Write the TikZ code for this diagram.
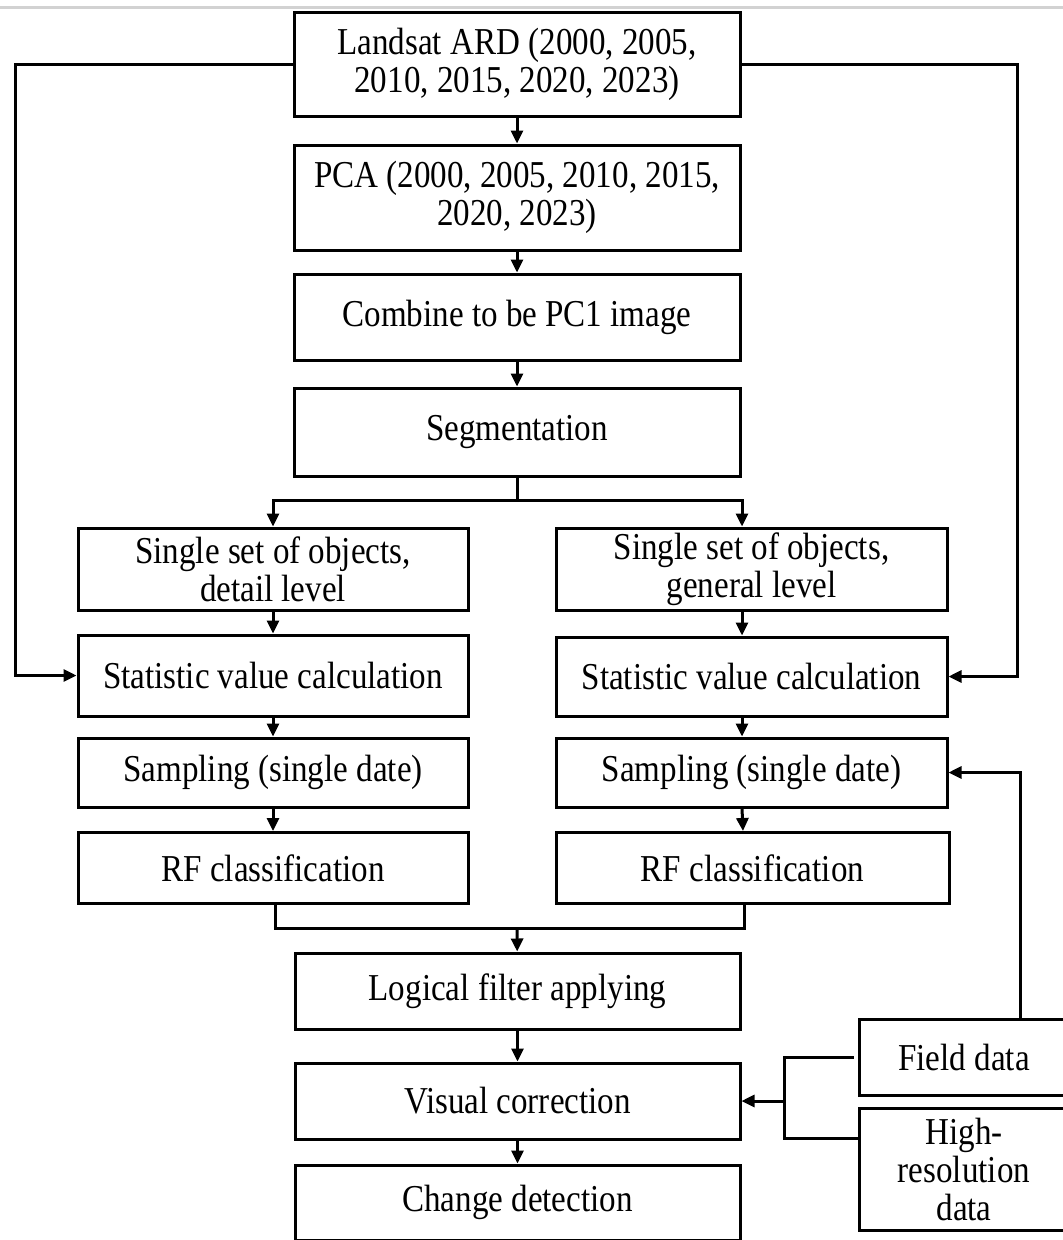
\documentclass[tikz,border=0pt]{standalone}
\usepackage{fontspec}
\setmainfont{Liberation Serif}[FakeStretch=0.87]
\usepackage{tikz}
\usetikzlibrary{arrows.meta, positioning}

\begin{document}
\begin{tikzpicture}[x=1pt, y=-1pt,
        box/.style={draw, line width=3pt, inner sep=0pt, align=center,
            font=\fontsize{38}{38}\selectfont},
        link/.style={line width=3pt},
        >={Triangle[length=13pt, width=12pt]}]
        \useasboundingbox (0,0) rectangle (1063,1240);
        \clip (0,0) rectangle (1063,1240);
        \draw[gray!35, line width=3pt] (0,7) -- (1063,7);

        \node[box, minimum width=446pt, minimum height=104pt] (land) at (517, 64) {Landsat ARD (2000, 2005,\\2010, 2015, 2020, 2023)};
        \node[box, minimum width=446pt, minimum height=105pt] (pca) at (517, 197.5) {PCA (2000, 2005, 2010, 2015,\\2020, 2023)};
        \node[box, minimum width=446pt, minimum height=86pt] (comb) at (517, 317) {Combine to be PC1 image};
        \node[box, minimum width=446pt, minimum height=88pt] (seg) at (517, 432) {Segmentation};

        \node[box, minimum width=390pt, minimum height=82pt] (detail) at (273, 569) {Single set of objects,\\detail level};
        \node[box, minimum width=391pt, minimum height=82pt] (general) at (751.5, 569) {Single set of objects,\\general level};
        \node[box, minimum width=390pt, minimum height=81pt] (statL) at (273, 675.5) {Statistic value calculation};
        \node[box, minimum width=391pt, minimum height=79pt] (statR) at (751.5, 676.5) {Statistic value calculation};
        \node[box, minimum width=390pt, minimum height=69pt] (sampL) at (273, 772.5) {Sampling (single date)};
        \node[box, minimum width=391pt, minimum height=69pt] (sampR) at (751.5, 772.5) {Sampling (single date)};
        \node[box, minimum width=390pt, minimum height=71pt] (rfL) at (273, 868) {RF classification};
        \node[box, minimum width=393pt, minimum height=71pt] (rfR) at (752.5, 868) {RF classification};

        \node[box, minimum width=445pt, minimum height=76pt] (logic) at (517.5, 991) {Logical filter applying};
        \node[box, minimum width=445pt, minimum height=76pt] (vis) at (517.5, 1101) {Visual correction};
        \node[box, minimum width=445pt, minimum height=75pt] (change) at (517.5, 1202.5) {Change detection};

        \node[box, minimum width=210pt, minimum height=76pt] (field) at (964, 1057) {Field data};
        \node[box, minimum width=210pt, minimum height=122pt] (high) at (964, 1169) {High-\\resolution\\data};

        \coordinate (lbend) at (15, 64);
        \coordinate (rbend) at (1017, 64);
        \coordinate (split) at (517, 500);
        \coordinate (merge) at (517, 928);
        \coordinate (brk) at (784, 1101);

        % main column
        \draw[link, ->] (land) -- (pca);
        \draw[link, ->] (pca) -- (comb);
        \draw[link, ->] (comb) -- (seg);
        \draw[link] (seg) -- (split);
        \draw[link, ->] (split) -| (detail);
        \draw[link, ->] (split) -| ([xshift=-9.5pt]general.north);

        % left branch
        \draw[link, ->] (detail) -- (statL);
        \draw[link, ->] (statL) -- (sampL);
        \draw[link, ->] (sampL) -- (rfL);

        % right branch
        \draw[link, ->] ([xshift=-9.5pt]general.south) -- ([xshift=-9.5pt]statR.north);
        \draw[link, ->] ([xshift=-9.5pt]statR.south) -- ([xshift=-9.5pt]sampR.north);
        \draw[link, ->] ([xshift=-9.5pt]sampR.south) -- ([xshift=-9.5pt]rfR.north);

        % feedback from Landsat ARD
        \draw[link, ->] (land.west) -- (lbend) |- (statL.west);
        \draw[link, ->] (land.east) -- (rbend) |- (statR.east);

        % merge and post-processing
        \draw[link] ([xshift=2pt]rfL.south) |- (merge) -| ([xshift=-8.5pt]rfR.south);
        \draw[link, ->] (merge) -- (logic);
        \draw[link, ->] (logic) -- (vis);
        \draw[link, ->] (vis) -- (change);

        % reference data
        \draw[link, ->] ([xshift=56pt]field.north) |- (sampR.east);
        \draw[link] ([xshift=-4pt]field.west) -| (brk) |- ([yshift=31pt]high.west);
        \draw[link, ->] (brk) -- (vis.east);
    \end{tikzpicture}
\end{document}
